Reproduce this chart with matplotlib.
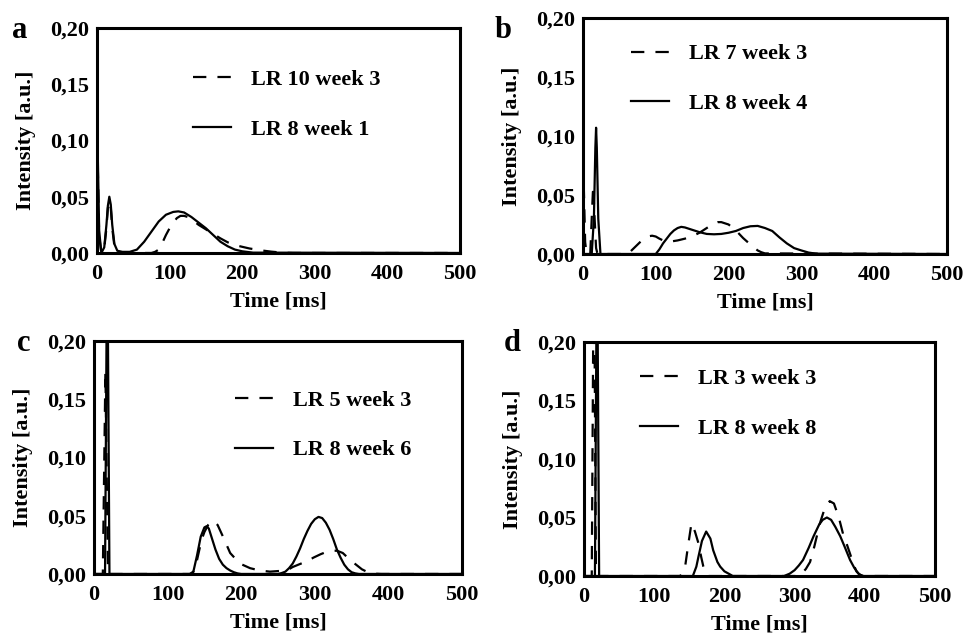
import matplotlib
matplotlib.use("Agg")
import matplotlib.pyplot as plt
import matplotlib.ticker as mticker

plt.rcParams['font.family'] = ['Liberation Serif', 'DejaVu Serif']
plt.rcParams['font.weight'] = 'bold'

# ---- data (time in ms, intensity in a.u.) ----
a_solid_t = [0, 1, 3, 6, 10, 13, 15, 17, 19, 21, 24, 28, 35, 45, 55, 65, 75, 85, 95, 105, 112,
             120, 130, 140, 150, 160, 170, 180, 190, 200, 215, 500]
a_solid_y = [0.11, 0.09, 0.02, 0.0, 0.005, 0.025, 0.042, 0.050, 0.043, 0.025, 0.008, 0.002, 0.001,
             0.001, 0.003, 0.010, 0.019, 0.028, 0.034, 0.0365, 0.037, 0.036, 0.032, 0.027, 0.022,
             0.016, 0.010, 0.006, 0.003, 0.0015, 0.0003, 0]
a_dash_t = [0, 1, 3, 6, 10, 13, 15, 17, 19, 21, 24, 30, 40, 60, 75, 80, 85, 90, 95, 100, 105, 110,
            115, 120, 125, 130, 140, 150, 160, 170, 180, 190, 200, 210, 220, 230, 240, 250, 260, 270, 500]
a_dash_y = [0.10, 0.08, 0.015, 0.0, 0.004, 0.022, 0.040, 0.046, 0.040, 0.022, 0.006, 0.001, 0, 0, 0,
            0.001, 0.003, 0.009, 0.016, 0.022, 0.027, 0.031, 0.033, 0.033, 0.032, 0.030, 0.025, 0.021,
            0.017, 0.013, 0.0095, 0.007, 0.0055, 0.004, 0.003, 0.002, 0.0012, 0.0006, 0.0002, 0, 0]

b_solid_t = [0, 12, 15, 17, 18, 19, 21, 24, 100, 105, 110, 115, 120, 125, 130, 135, 140, 150, 160,
             170, 180, 190, 200, 210, 220, 230, 240, 250, 260, 270, 280, 290, 300, 310, 320, 500]
b_solid_y = [0, 0, 0.03, 0.09, 0.107, 0.09, 0.03, 0, 0, 0.004, 0.009, 0.013, 0.017, 0.020, 0.022,
             0.023, 0.0225, 0.0205, 0.0185, 0.017, 0.0167, 0.017, 0.018, 0.0195, 0.022, 0.0235,
             0.0238, 0.022, 0.0195, 0.014, 0.009, 0.005, 0.003, 0.0012, 0.0003, 0]
b_dash_t = [0, 1, 3, 5, 10, 12, 14, 16, 18, 20, 60, 65, 70, 75, 80, 85, 90, 95, 100, 105, 110, 115,
            120, 130, 140, 150, 160, 170, 180, 185, 190, 200, 210, 220, 230, 240, 245, 250, 500]
b_dash_y = [0.10, 0.06, 0.01, 0, 0, 0.03, 0.058, 0.03, 0.005, 0, 0, 0.002, 0.005, 0.008, 0.011,
            0.013, 0.015, 0.0155, 0.0148, 0.013, 0.0115, 0.0105, 0.0105, 0.0115, 0.013, 0.015, 0.018,
            0.022, 0.026, 0.027, 0.027, 0.025, 0.020, 0.0135, 0.008, 0.003, 0.0015, 0.0005, 0]

c_solid_t = [0, 15, 18, 21, 130, 135, 140, 145, 150, 153, 156, 160, 165, 170, 175, 180, 185, 190,
             195, 200, 250, 255, 260, 265, 270, 275, 280, 285, 290, 295, 300, 305, 310, 315, 320,
             325, 330, 335, 340, 345, 350, 355, 360, 500]
c_solid_y = [0, 0, 0.30, 0, 0, 0.002, 0.016, 0.032, 0.040, 0.041, 0.039, 0.031, 0.021, 0.013, 0.008,
             0.005, 0.003, 0.0015, 0.0005, 0, 0, 0.0008, 0.002, 0.005, 0.009, 0.015, 0.022, 0.030,
             0.037, 0.043, 0.047, 0.049, 0.048, 0.044, 0.038, 0.030, 0.021, 0.014, 0.008, 0.004,
             0.0015, 0.0005, 0, 0]
c_dash_t = [0, 12, 15.5, 19, 134, 140, 146, 150, 155, 162, 168, 176, 185, 198, 212, 225, 239, 250,
            262, 270, 280, 290, 298, 308, 316, 324, 330, 338, 348, 356, 364, 372, 380, 390, 500]
c_dash_y = [0, 0, 0.174, 0, 0, 0.012, 0.029, 0.036, 0.042, 0.0458, 0.042, 0.031, 0.018, 0.009, 0.005,
            0.003, 0.002, 0.0025, 0.003, 0.006, 0.0086, 0.011, 0.014, 0.017, 0.019, 0.0198, 0.020,
            0.018, 0.012, 0.008, 0.004, 0.0015, 0.0003, 0, 0]

d_solid_t = [0, 15.5, 18.5, 21.5, 155, 160, 163, 168, 174, 180, 184, 190, 194, 200, 206, 212, 285,
             293, 300, 306, 312, 320, 327, 335, 340, 346, 352, 358, 365, 372, 379, 385, 391, 397, 500]
d_solid_y = [0, 0, 0.30, 0, 0, 0.008, 0.0165, 0.030, 0.038, 0.032, 0.022, 0.012, 0.008, 0.004, 0.002,
             0, 0, 0.002, 0.005, 0.009, 0.0137, 0.024, 0.034, 0.044, 0.048, 0.050, 0.048, 0.042,
             0.034, 0.024, 0.0137, 0.007, 0.002, 0, 0]
d_dash_t = [0, 11, 14, 17, 137, 141, 144, 148, 153, 158, 163, 167, 170, 173, 177, 305, 310, 316, 322,
            328, 336, 343, 350, 356, 363, 369, 375, 379, 384, 388, 393, 398, 500]
d_dash_y = [0, 0, 0.30, 0, 0, 0.004, 0.008, 0.025, 0.045, 0.038, 0.028, 0.016, 0.008, 0.003, 0, 0,
            0.002, 0.006, 0.012, 0.025, 0.045, 0.058, 0.064, 0.062, 0.050, 0.036, 0.026, 0.019, 0.010,
            0.004, 0.001, 0, 0]

labels_a = ["LR 10 week 3", "LR 8 week 1"]
labels_b = ["LR 7 week 3", "LR 8 week 4"]
labels_c = ["LR 5 week 3", "LR 8 week 6"]
labels_d = ["LR 3 week 3", "LR 8 week 8"]

x_ticks = [0, 100, 200, 300, 400, 500]
y_ticks = [0.0, 0.05, 0.10, 0.15, 0.20]
y_tick_labels = ["0,00", "0,05", "0,10", "0,15", "0,20"]

# panel: (letter, axes rect, dashed, solid, labels, legend anchor, letter pos)
panels = [
    ("a", [0.1004, 0.6016, 0.3758, 0.3543], (a_dash_t, a_dash_y), (a_solid_t, a_solid_y),
     labels_a, (0.264, 0.815), (0.0124, 0.9397)),
    ("b", [0.6035, 0.6000, 0.3768, 0.3717], (b_dash_t, b_dash_y), (b_solid_t, b_solid_y),
     labels_b, (0.132, 0.89), (0.512, 0.9397)),
    ("c", [0.0973, 0.0961, 0.3810, 0.3669], (c_dash_t, c_dash_y), (c_solid_t, c_solid_y),
     labels_c, (0.383, 0.788), (0.0173, 0.4467)),
    ("d", [0.6046, 0.0929, 0.3633, 0.3685], (d_dash_t, d_dash_y), (d_solid_t, d_solid_y),
     labels_d, (0.159, 0.886), (0.5214, 0.4467)),
]

fs = 16
fig = plt.figure(figsize=(9.66, 6.35), dpi=100)

for letter, rect, dash, solid, labels, leg_pos, let_pos in panels:
    ax = fig.add_axes(rect)
    ax.plot(dash[0], dash[1], color='black', lw=1.6, ls=(0, (6, 5)), label=labels[0])
    ax.plot(solid[0], solid[1], color='black', lw=1.6, label=labels[1])
    ax.set_xlim(0, 500)
    ax.set_ylim(0, 0.20)
    ax.set_xticks(x_ticks)
    ax.set_yticks(y_ticks)
    ax.yaxis.set_major_formatter(mticker.FixedFormatter(y_tick_labels))
    ax.tick_params(length=0, labelsize=fs)
    ax.tick_params(axis='x', pad=8)
    ax.tick_params(axis='y', pad=6)
    for lab in ax.get_xticklabels() + ax.get_yticklabels():
        lab.set_fontweight('bold')
    for sp in ax.spines.values():
        sp.set_linewidth(2.2)
    ax.set_xlabel("Time [ms]", fontsize=fs, fontweight='bold', labelpad=5)
    ax.set_ylabel("Intensity [a.u.]", fontsize=fs, fontweight='bold', labelpad=10)
    ax.legend(loc='upper left', bbox_to_anchor=leg_pos, frameon=False,
              prop={'size': fs, 'weight': 'bold'}, handlelength=1.7, handletextpad=0.9,
              labelspacing=1.3, borderpad=0, borderaxespad=0)
    fig.text(let_pos[0], let_pos[1], letter, fontsize=22, fontweight='bold',
             ha='left', va='baseline')

fig.savefig("out.png", dpi=100)
